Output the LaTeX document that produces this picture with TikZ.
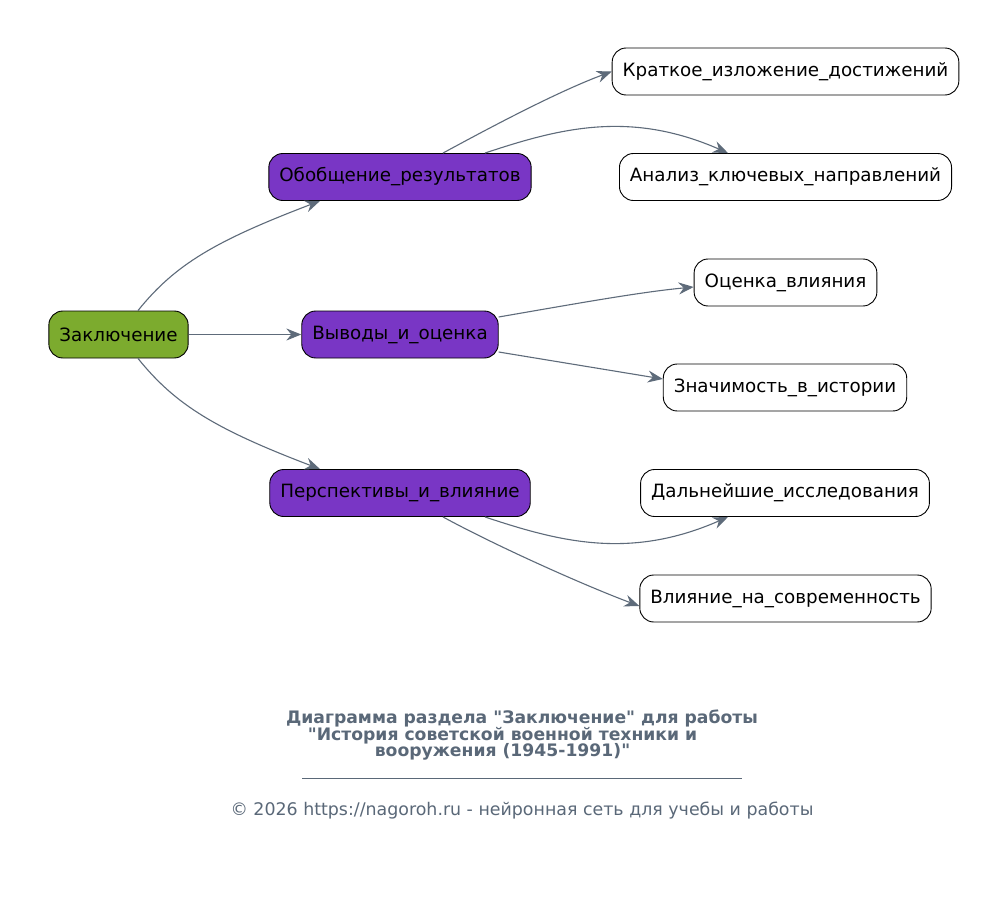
\documentclass[tikz,border=0pt]{standalone}
\usepackage{fontspec}
\setmainfont{DejaVu Sans}[Ligatures=TeXOff]
\usetikzlibrary{arrows.meta}
\definecolor{edgec}{HTML}{5E6B7A}
\definecolor{rootc}{HTML}{7CAB2E}
\definecolor{midc}{HTML}{7936C5}
\definecolor{titlec}{HTML}{5A6878}
\begin{document}
\begin{tikzpicture}[x=1pt,y=-1pt,
  box/.style={draw=black, line width=0.9pt, rounded corners=14pt, minimum height=47pt, inner xsep=10.5pt, font=\fontsize{18.3}{22}\selectfont, text=black},
  rootbox/.style={box, fill=rootc},
  midbox/.style={box, fill=midc},
  leafbox/.style={box, fill=white},
  conn/.style={draw=edgec, line width=1.1pt, -{Stealth[length=15pt,width=12pt,inset=5pt]}}
]
\useasboundingbox (0,0) rectangle (1008,896);
\fill[white] (0,0) rectangle (1008,896);

\node[rootbox] (zak) at (118.5,334.5) {Заключение};
\node[midbox] (obo) at (400,177) {Обобщение\_результатов};
\node[midbox] (vyv) at (400,334.5) {Выводы\_и\_оценка};
\node[midbox] (per) at (400,493) {Перспективы\_и\_влияние};
\node[leafbox] (kra) at (785.5,71.5) {Краткое\_изложение\_достижений};
\node[leafbox] (ana) at (785.5,177) {Анализ\_ключевых\_направлений};
\node[leafbox] (oce) at (785.5,282.5) {Оценка\_влияния};
\node[leafbox] (zna) at (785,387.5) {Значимость\_в\_истории};
\node[leafbox] (dal) at (785,493) {Дальнейшие\_исследования};
\node[leafbox] (vli) at (785.5,598.5) {Влияние\_на\_современность};

\draw[conn] ([xshift=19.5pt]zak.north) .. controls +(37,-46) and +(-105,40) .. ([xshift=-80pt]obo.south);
\draw[conn] (zak.east) -- (vyv.west);
\draw[conn] ([xshift=19.5pt]zak.south) .. controls +(37,46) and +(-105,-40) .. ([xshift=-80pt]per.north);

\draw[conn] ([xshift=43pt]obo.north) .. controls +(57,-31) and +(-51,19) .. (kra.west);
\draw[conn] ([xshift=85pt]obo.north) .. controls +(75,-25) and +(-98,-43) .. ([xshift=-57.5pt]ana.north);
\draw[conn] ([yshift=17.5pt]vyv.east) .. controls +(81,-14) and +(-53,5) .. ([yshift=-4.5pt]oce.west);
\draw[conn] ([yshift=-17.5pt]vyv.east) -- ([yshift=8.5pt]zna.west);
\draw[conn] ([xshift=85pt]per.south) .. controls +(75,25) and +(-98,43) .. ([xshift=-57pt]dal.south);
\draw[conn] ([xshift=43pt]per.south) .. controls +(57,31) and +(-51,-19) .. ([yshift=-7.5pt]vli.west);

\begin{scope}[every node/.style={text=titlec, font=\fontsize{17.2}{20}\selectfont\bfseries, inner sep=0pt}]
\node (t1) at (522,718) {Диаграмма раздела "Заключение" для работы};
\node (t2) at (502.5,735.5) {"История советской военной техники и};
\node (t3) at (502.5,752) {вооружения (1945-1991)"};
\end{scope}
\draw[titlec, line width=0.6pt] (302,778) -- (742,778);
\node[text=titlec, font=\fontsize{17.4}{20}\selectfont, inner sep=0pt] (foot) at (522,811) {© 2026 https://nagoroh.ru - нейронная сеть для учебы и работы};
\end{tikzpicture}
\end{document}
